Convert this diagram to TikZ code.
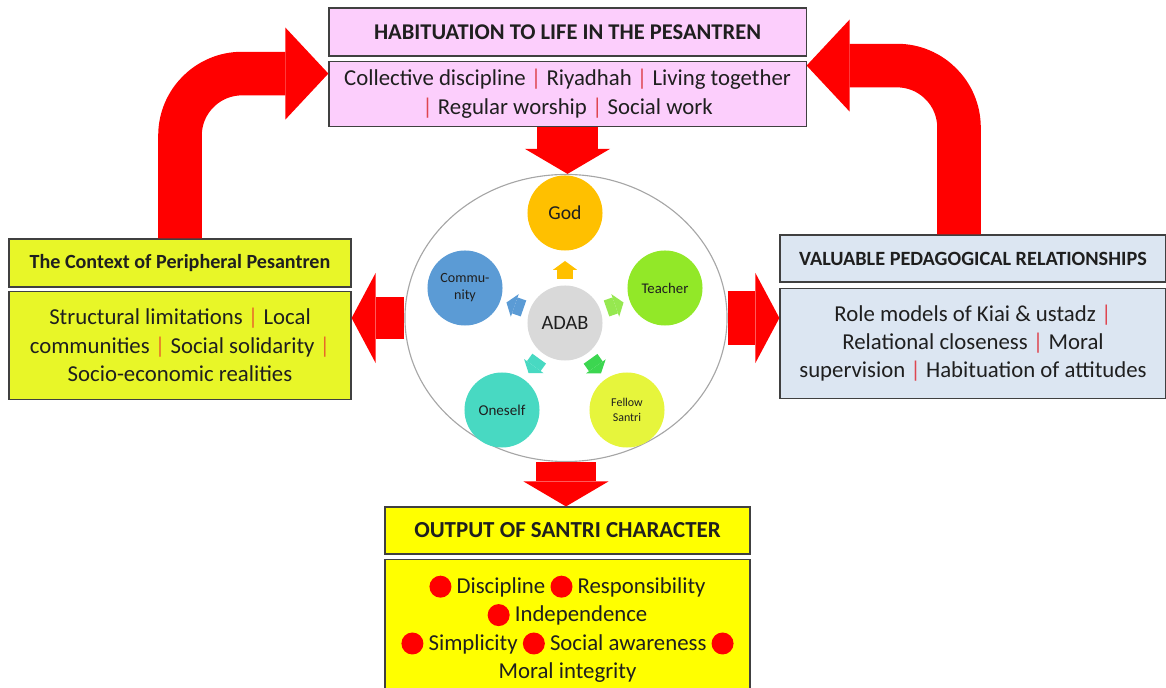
\documentclass[tikz,border=0pt]{standalone}
\usepackage{fontspec}
\setmainfont{Carlito}
\usepackage{tikz}
\usetikzlibrary{positioning, shapes.geometric, arrows.meta, calc}
\definecolor{habitpink}{RGB}{252,206,252}
\definecolor{ctxyellow}{RGB}{232,246,40}
\definecolor{relblue}{RGB}{220,230,242}
\definecolor{outyellow}{RGB}{255,255,0}
\definecolor{arrowred}{RGB}{255,0,0}
\definecolor{sepred}{RGB}{222,70,80}
\definecolor{seporange}{RGB}{232,105,40}
\definecolor{godgold}{RGB}{255,192,0}
\definecolor{teachergreen}{RGB}{146,232,40}
\definecolor{teacherlight}{RGB}{150,232,80}
\definecolor{communityblue}{RGB}{91,155,213}
\definecolor{oneselfteal}{RGB}{72,217,194}
\definecolor{fellowyellow}{RGB}{230,245,60}
\definecolor{fellowgreen}{RGB}{60,214,80}
\definecolor{adabgray}{RGB}{217,217,217}
\newcommand{\sep}{\textcolor{sepred}{|}}
\newcommand{\sepo}{\textcolor{seporange}{|}}
\newcommand{\rdot}{\tikz[baseline={(0,-0.17cm)}]\fill[arrowred] (0,0) circle (0.275cm);}

\begin{document}
\begin{tikzpicture}[
        x=0.025cm, y=-0.025cm,
        every node/.style={font=\fontsize{16.2}{20.2}\selectfont, text=black!88},
        title/.style={rectangle, draw=black!75, line width=0.8pt, font=\bfseries\fontsize{16}{18}\selectfont, text centered, inner sep=0pt},
        body/.style={rectangle, draw=black!75, line width=0.8pt, align=center, inner sep=0pt},
        spot/.style={circle, minimum size=1.875cm, inner sep=0pt, align=center},
        downarrow/.style={draw=arrowred, line width=43pt, -{Triangle[width=2.125cm, length=0.625cm, line width=0pt]}},
        sidearrow/.style={draw=arrowred, line width=#1, -{Triangle[width=2.25cm, length=0.6cm, line width=0pt]}},
        curvedarrow/.style={draw=arrowred, line width=31pt, rounded corners=1.55cm, -{Triangle[width=2.3cm, length=1.075cm, line width=0pt]}},
        tinyarrow/.style={draw=#1, line width=12pt, -{Triangle[width=0.6cm, length=0.22cm, line width=0pt]}}
    ]
    \useasboundingbox (0,0) rectangle (1166,688);

    % Boxes
    \node[title, fill=habitpink, minimum width=11.925cm, minimum height=1.2cm] (habittitle) at (567.5,32) {HABITUATION TO LIFE IN THE PESANTREN};
    \node[body, fill=habitpink, minimum width=11.925cm, minimum height=1.625cm, below=0.1cm of habittitle] (habitbody)
        {Collective discipline \sep{} Riyadhah \sep{} Living together\\ \sep{} Regular worship \sep{} Social work};

    \node[title, fill=ctxyellow, minimum width=8.55cm, minimum height=1.2cm, font=\bfseries\fontsize{14.3}{17}\selectfont] (ctxtitle) at (180,263) {The Context of Peripheral Pesantren};
    \node[body, fill=ctxyellow, minimum width=8.55cm, minimum height=2.7cm, below=0.075cm of ctxtitle] (ctxbody)
        {Structural limitations \sepo{} Local\\ communities \sepo{} Social solidarity \sepo\\ Socio-economic realities};

    \node[title, fill=relblue, minimum width=9.65cm, minimum height=1.175cm, font=\bfseries\fontsize{14.4}{17}\selectfont] (reltitle) at (973,258.5) {VALUABLE PEDAGOGICAL RELATIONSHIPS};
    \node[body, fill=relblue, minimum width=9.65cm, minimum height=2.75cm, below=0.125cm of reltitle] (relbody)
        {Role models of Kiai \& ustadz \sep\\ Relational closeness \sep{} Moral\\ supervision \sep{} Habituation of attitudes};

    \node[title, fill=outyellow, minimum width=9.125cm, minimum height=1.175cm, font=\bfseries\fontsize{16.3}{18}\selectfont] (outtitle) at (567.5,530.5) {OUTPUT OF SANTRI CHARACTER};
    \node[body, fill=outyellow, minimum width=9.125cm, minimum height=3.5cm, below=0.1cm of outtitle] (outbody)
        {\rdot{} Discipline \rdot{} Responsibility\\ \rdot{} Independence\\ \rdot{} Simplicity \rdot{} Social awareness \rdot\\ Moral integrity};

    % ADAB circle
    \node[ellipse, draw=black!35, line width=0.8pt, minimum width=8.05cm, minimum height=7.175cm, inner sep=0pt] (ring) at (566,318) {};
    \node[spot, fill=godgold, font=\fontsize{14}{16}\selectfont] (god) at (565,213) {God};
    \node[spot, fill=teachergreen, font=\fontsize{10.5}{12}\selectfont] (teacher) at (665,288) {Teacher};
    \node[spot, fill=communityblue, font=\fontsize{10}{12}\selectfont] (community) at (465,288) {Commu-\\nity};
    \node[spot, fill=oneselfteal, font=\fontsize{10.7}{12}\selectfont] (oneself) at (502,410) {Oneself};
    \node[spot, fill=fellowyellow, font=\fontsize{8.5}{10.5}\selectfont] (fellow) at (627,410) {Fellow\\Santri};
    \node[spot, fill=adabgray, font=\fontsize{14.5}{16}\selectfont] (adab) at (565,323) {ADAB};

    \foreach \target/\col in {god/godgold, teacher/teacherlight, community/communityblue, oneself/oneselfteal, fellow/fellowgreen}
        \draw[tinyarrow=\col] ($(adab)!1.1cm!(\target)$) -- ($(adab)!1.55cm!(\target)$);

    % Arrows
    \draw[downarrow] (habitbody.south) -- (habitbody.south |- ring.north);
    \draw[downarrow] (ring.south) -- (ring.south |- outtitle.north);
    \draw[sidearrow=30.5pt] (ring.west) -- (ring.west -| ctxbody.east);
    \draw[sidearrow=38.5pt] (ring.east) -- (ring.east -| relbody.west);
    \draw[curvedarrow] (ctxtitle.north) |- ($(habitbody.north west)+(0,13)$);
    \draw[curvedarrow] ($(reltitle.north)+(-14,0)$) |- ($(habitbody.north east)+(0,5)$);

\end{tikzpicture}
\end{document}
